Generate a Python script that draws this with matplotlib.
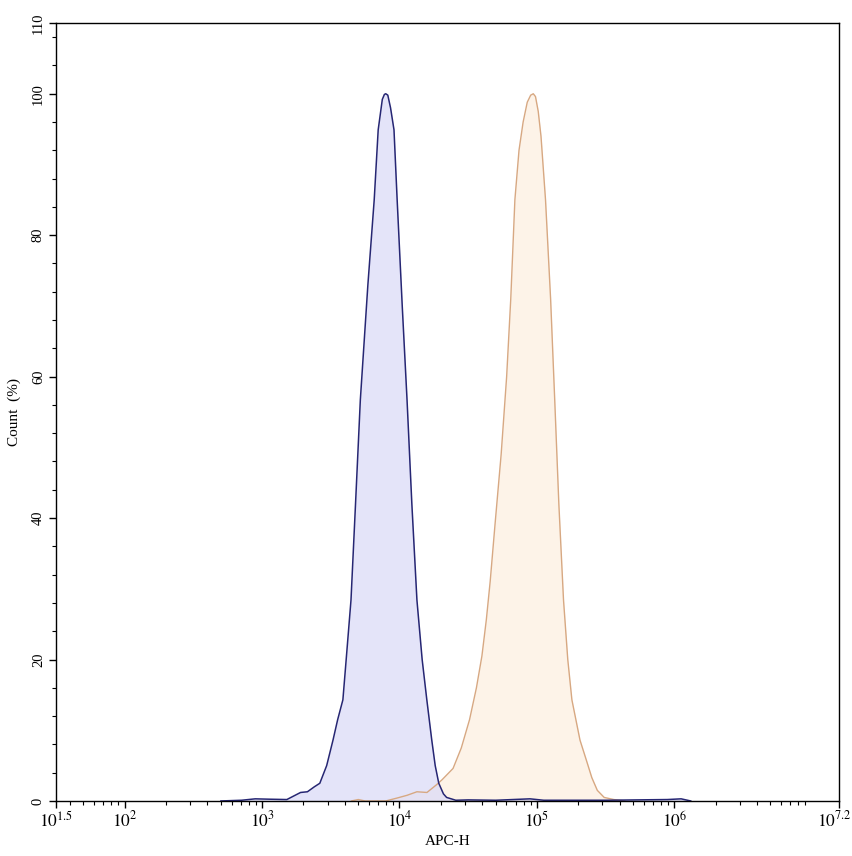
import numpy as np
import matplotlib
matplotlib.use("Agg")
import matplotlib.pyplot as plt
import matplotlib.transforms as mtransforms
from matplotlib.ticker import MultipleLocator, FixedLocator, FixedFormatter, LogLocator, NullFormatter

plt.rcParams['font.family'] = ['Liberation Serif', 'DejaVu Serif']
plt.rcParams['mathtext.fontset'] = 'stix'

# control sample (blue), log10 of APC-H and count %
blue_log = [2.70, 2.85, 2.95, 3.05, 3.18, 3.24, 3.28, 3.33, 3.38, 3.42, 3.47, 3.516,
            3.55, 3.588, 3.612, 3.647, 3.68, 3.715, 3.77, 3.816, 3.845, 3.875, 3.89, 3.90,
            3.915, 3.935, 3.96, 3.983, 4.02, 4.055, 4.09, 4.127, 4.165, 4.199, 4.235, 4.26,
            4.286, 4.32, 4.343, 4.41, 4.5, 4.7, 4.95, 5.05, 5.5, 5.95, 6.05, 6.12]
blue_cnt = [0, 0.1, 0.3, 0.25, 0.2, 0.8, 1.2, 1.3, 2.0, 2.5, 5.0, 8.6,
            11.5, 14.3, 20, 28.4, 42, 56.7, 73, 85, 94.9, 99.2, 99.9, 100,
            99.8, 98, 94.9, 85, 70, 56.7, 42, 28.4, 20, 14.3, 8.6, 5,
            2.5, 1.0, 0.5, 0.1, 0.15, 0.1, 0.3, 0.1, 0.1, 0.2, 0.3, 0]

# stained sample (orange)
orange_log = [3.65, 3.70, 3.75, 3.90, 3.98, 4.055, 4.127, 4.20, 4.27, 4.31, 4.36, 4.39,
              4.45, 4.51, 4.56, 4.60, 4.632, 4.66, 4.695, 4.74, 4.78, 4.81, 4.84, 4.87,
              4.90, 4.93, 4.955, 4.974, 4.99, 5.01, 5.03, 5.063, 5.10, 5.13, 5.16, 5.194,
              5.225, 5.255, 5.314, 5.363, 5.40, 5.44, 5.49, 5.56, 5.64]
orange_cnt = [0, 0.2, 0, 0, 0.4, 0.8, 1.3, 1.2, 2.3, 3.0, 4.0, 4.6,
              7.5, 11.5, 16, 20.5, 25.6, 31, 39, 49, 60, 71, 85, 92,
              96, 98.8, 99.8, 100, 99.6, 97.5, 94, 85, 71, 56.7, 42, 28.4,
              20, 14.3, 8.6, 5.6, 3.3, 1.5, 0.5, 0.2, 0]

xtick_pow = [1.5, 2, 3, 4, 5, 6, 7.2]
xtick_lbl = ['$10^{1.5}$', '$10^{2}$', '$10^{3}$', '$10^{4}$', '$10^{5}$', '$10^{6}$', '$10^{7.2}$']
ytick_vals = [0, 20, 40, 60, 80, 100, 110]

fig = plt.figure(figsize=(8.53, 8.56), dpi=100)
ax = fig.add_axes([0.0657, 0.0643, 0.918, 0.9088])

bx = 10 ** np.array(blue_log)
ox = 10 ** np.array(orange_log)

ax.fill_between(ox, orange_cnt, color='#fdf3e8', lw=0)
ax.plot(ox, orange_cnt, color='#d7a882', lw=1.0)
ax.fill_between(bx, blue_cnt, color='#dcdcf8', alpha=0.75, lw=0)
ax.plot(bx, blue_cnt, color='#262673', lw=1.1)

ax.set_xscale('log')
ax.set_xlim(10 ** 1.5, 10 ** 7.2)
ax.set_ylim(0, 110)

ax.xaxis.set_major_locator(FixedLocator([10 ** p for p in xtick_pow]))
ax.xaxis.set_major_formatter(FixedFormatter(xtick_lbl))
ax.xaxis.set_minor_locator(LogLocator(base=10, subs=np.arange(2, 10), numticks=20))
ax.xaxis.set_minor_formatter(NullFormatter())

ax.yaxis.set_major_locator(FixedLocator(ytick_vals))
ax.yaxis.set_minor_locator(MultipleLocator(4))

ax.tick_params(axis='both', which='major', direction='out', length=5, width=1)
ax.tick_params(axis='both', which='minor', direction='out', length=3, width=0.8)
ax.tick_params(axis='x', labelsize=12.5, pad=2)
ax.tick_params(axis='y', labelsize=10.5, pad=3)
for lbl in ax.get_yticklabels():
    lbl.set_rotation(90)
    lbl.set_va('center')
# last x label sits at the figure edge, nudge it left a little
last = ax.get_xticklabels()[-1]
last.set_transform(last.get_transform() + mtransforms.ScaledTranslation(-5 / 100, 0, fig.dpi_scale_trans))
for s in ax.spines.values():
    s.set_linewidth(1.0)

ax.set_xlabel('APC-H', fontsize=11, labelpad=3)
ax.set_ylabel('Count  (%)', fontsize=11, labelpad=8)

fig.savefig('out.png', dpi=100)
